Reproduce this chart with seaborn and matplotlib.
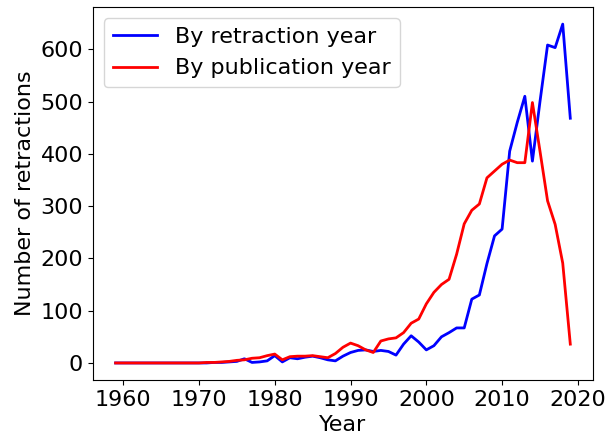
import numpy as np
import pandas as pd
import matplotlib
matplotlib.use("Agg")
import matplotlib.pyplot as plt
import seaborn as sns

years = list(range(1959, 2020))

# retractions counted by year of retraction
by_retraction = [
    0, 0, 0, 0, 0, 0, 0, 0, 0, 0,          # 1959-1968
    0, 0, 0, 1, 1, 2, 3, 8, 1, 2,          # 1969-1978
    4, 14, 2, 10, 8, 11, 13, 10, 6, 4,     # 1979-1988
    13, 20, 24, 25, 22, 24, 22, 15, 36, 52,  # 1989-1998
    40, 25, 33, 50, 58, 67, 67, 122, 130, 190,  # 1999-2008
    243, 256, 405, 460, 510, 386, 500, 608, 603, 648,  # 2009-2018
    468,                                   # 2019
]

# retractions counted by year of publication
by_publication = [
    0, 0, 0, 0, 0, 0, 0, 0, 0, 0,          # 1959-1968
    0, 0, 1, 1, 2, 3, 5, 6, 9, 10,         # 1969-1978
    14, 17, 6, 12, 13, 13, 14, 12, 10, 18,  # 1979-1988
    30, 38, 33, 25, 20, 42, 46, 48, 58, 76,  # 1989-1998
    84, 113, 135, 150, 160, 208, 266, 292, 304, 354,  # 1999-2008
    367, 380, 388, 383, 383, 498, 405, 310, 265, 191,  # 2009-2018
    36,                                    # 2019
]

plt.rcParams["font.size"] = 16
plt.rcParams["font.family"] = ["DejaVu Sans"]

fig, ax = plt.subplots(figsize=(6.07, 4.48), dpi=100)
sns.lineplot(x=years, y=by_retraction, color="b", label="By retraction year", ax=ax, linewidth=2)
sns.lineplot(x=years, y=by_publication, color="r", label="By publication year", ax=ax, linewidth=2)

ax.set_xticks(range(1960, 2021, 10))
ax.set_xlabel("Year")
ax.set_ylabel("Number of retractions")
ax.legend(loc="upper left")

fig.subplots_adjust(left=0.153, right=0.977, top=0.984, bottom=0.152)
fig.savefig("out.png", dpi=100)
